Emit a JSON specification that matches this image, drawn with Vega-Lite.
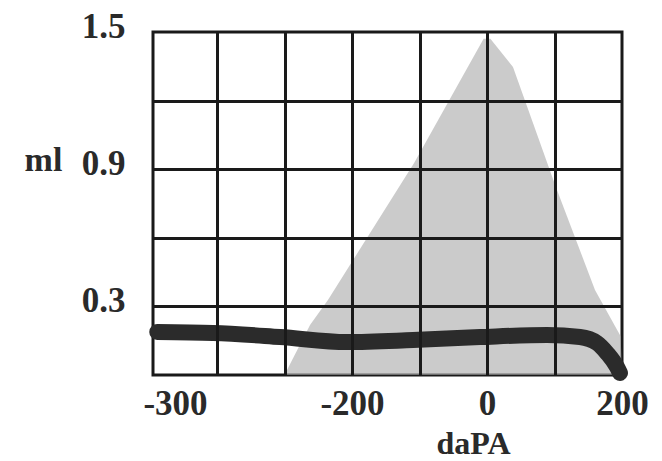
{
  "$schema": "https://vega.github.io/schema/vega-lite/v6.json",
  "width": 469,
  "height": 343,
  "autosize": {"type": "none"},
  "padding": {"left": 153, "top": 32, "right": 40, "bottom": 86},
  "background": "white",
  "config": {
    "view": {"stroke": "#1a1a1a", "strokeWidth": 3},
    "axis": {
      "labelFont": "Liberation Serif",
      "labelFontWeight": "bold",
      "labelFontSize": 35,
      "labelColor": "#2a2a2a",
      "titleFont": "Liberation Serif",
      "titleFontWeight": "bold",
      "titleFontSize": 34,
      "titleColor": "#2a2a2a",
      "gridColor": "#1a1a1a",
      "gridWidth": 3,
      "gridOpacity": 1
    }
  },
  "datasets": {
    "normal": [
      {"daPa": -238, "ml": 0},
      {"daPa": -236.7, "ml": 0.022},
      {"daPa": -223.7, "ml": 0.219},
      {"daPa": -213.6, "ml": 0.328},
      {"daPa": -108, "ml": 0.927},
      {"daPa": -5, "ml": 1.47},
      {"daPa": 5, "ml": 1.47},
      {"daPa": 38.5, "ml": 1.347},
      {"daPa": 102, "ml": 0.822},
      {"daPa": 160, "ml": 0.372},
      {"daPa": 198, "ml": 0.17},
      {"daPa": 200, "ml": 0}
    ],
    "curve": [
      {"daPa": -310, "ml": 0.188},
      {"daPa": -278.5, "ml": 0.184},
      {"daPa": -240.6, "ml": 0.166},
      {"daPa": -202.8, "ml": 0.144},
      {"daPa": -109.6, "ml": 0.153},
      {"daPa": -10.4, "ml": 0.166},
      {"daPa": 88.9, "ml": 0.175},
      {"daPa": 137.8, "ml": 0.166},
      {"daPa": 163, "ml": 0.14},
      {"daPa": 177.8, "ml": 0.096},
      {"daPa": 192.6, "ml": 0.035},
      {"daPa": 197, "ml": 0.009}
    ]
  },
  "layer": [
    {
      "data": {"name": "normal"},
      "mark": {"type": "area", "color": "#a9a9a9", "opacity": 0.6},
      "encoding": {
        "x": {
          "field": "daPa",
          "type": "quantitative",
          "scale": {"domain": [-312.4, -200, 200], "range": [0, 199, 469], "nice": false, "zero": false, "clamp": true},
          "axis": {"orient": "top", "values": [-276, -238, -200, -100, 0, 100], "labels": false, "ticks": false, "domain": false, "grid": true, "title": null, "zindex": 1}
        },
        "y": {
          "field": "ml",
          "type": "quantitative",
          "scale": {"domain": [0, 1.5], "nice": false, "zero": false},
          "axis": {"orient": "right", "values": [0.3, 0.6, 0.9, 1.2], "labels": false, "ticks": false, "domain": false, "grid": true, "title": null, "zindex": 1}
        }
      }
    },
    {
      "data": {"name": "curve"},
      "mark": {"type": "line", "color": "#2b2b2b", "strokeWidth": 16, "strokeCap": "round", "strokeJoin": "round", "interpolate": "monotone"},
      "encoding": {
        "x": {
          "field": "daPa",
          "type": "quantitative",
          "axis": {"orient": "bottom", "values": [-300, -200, 0, 200], "labelExpr": "'' + datum.value", "grid": false, "ticks": false, "domain": false, "labelPadding": 11, "labelFlush": false, "title": "daPA", "titleFontSize": 32, "titleX": 320, "titleY": 85, "titleBaseline": "bottom", "titleAlign": "center"}
        },
        "y": {
          "field": "ml",
          "type": "quantitative",
          "axis": {"orient": "left", "values": [1.5, 0.9, 0.3], "grid": false, "ticks": false, "domain": false, "labelPadding": 28, "labelOffset": -6, "labelFlush": false, "labelBaseline": "middle", "title": "ml", "titleAngle": 0, "titleX": -110, "titleY": 128, "titleAlign": "center", "titleBaseline": "middle"}
        }
      }
    }
  ],
  "resolve": {"axis": {"x": "independent", "y": "independent"}}
}
